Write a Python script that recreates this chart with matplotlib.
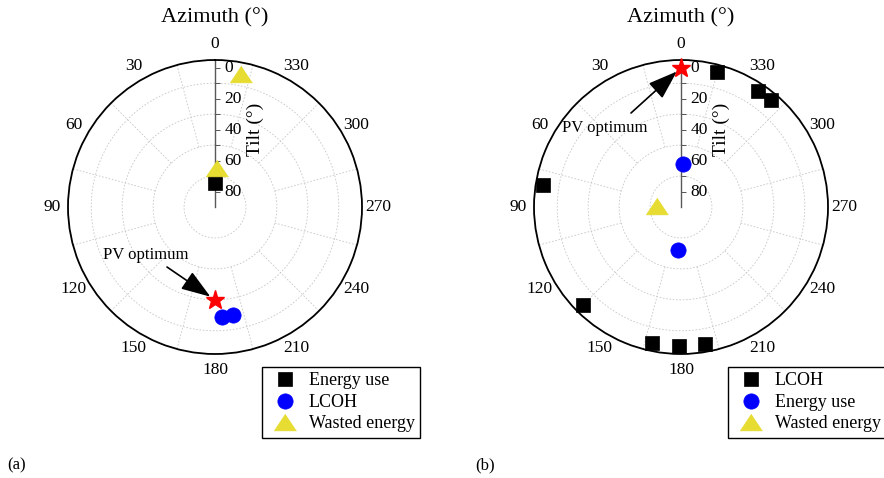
import numpy as np
import matplotlib.pyplot as plt
from matplotlib.transforms import ScaledTranslation

plt.rcParams['font.family'] = ['Liberation Serif', 'DejaVu Serif']

# optimum orientations (azimuth, tilt) in degrees -- case (a)
a_energy_az = [0]
a_energy_tilt = [74.7]
a_lcoh_az = [183.5, 189.5]
a_lcoh_tilt = [19.0, 19.3]
a_waste_az = [349, 357.5]
a_waste_tilt = [2.2, 65]
a_pv_az = [180]
a_pv_tilt = [30]

# case (b)
b_lcoh_az = [345, 326.5, 320, 81, 135, 168, 179, 190]
b_lcoh_tilt = [0, 0, 0, 0, 0, 0, 0, 0]
b_energy_az = [357.4, 176.4]
b_energy_tilt = [62, 62]
b_waste_az = [88]
b_waste_tilt = [74.3]
b_pv_az = [0]
b_pv_tilt = [0]

az_ticks = list(range(0, 360, 30))
tilt_ticks = [0, 20, 40, 60, 80]
tilt_minor = [10, 30, 50, 70]

R_MAX = 95
YELLOW = '#e6dc32'
TRI = [(0, 0.75), (-1, -0.75), (1, -0.75)]

fig = plt.figure(figsize=(8.84, 4.78), dpi=100)


def r_of(tilt):
    return 90 - np.asarray(tilt, dtype=float)


def setup_polar(ax):
    ax.set_theta_zero_location('N')
    ax.set_theta_direction(1)
    ax.set_ylim(0, R_MAX)
    ax.set_xticks(np.deg2rad(az_ticks))
    ax.set_xticklabels([])
    ax.set_yticks([])
    ax.grid(False)
    ax.tick_params(axis='x', direction='in', length=4, width=0.8, color='k')
    ax.spines['polar'].set_linewidth(1.3)

    th = np.linspace(0, 2 * np.pi, 361)
    for t in tilt_minor:
        ax.plot(th, np.full_like(th, r_of(t)), ls=(0, (2, 2)), lw=0.6, color='0.78', zorder=1)
    for a in range(15, 360, 30):
        ax.plot(np.deg2rad([a, a]), [40, R_MAX], ls=(0, (2, 2)), lw=0.6, color='0.78', zorder=1)

    for a in az_ticks:
        ax.text(np.deg2rad(a), 105.5, str(a), ha='center', va='center', fontsize=12.5)

    # tilt axis along azimuth 0
    ax.plot([0, 0], [0, R_MAX], color='0.35', lw=1, zorder=2)
    ticks_r = np.concatenate([r_of(tilt_ticks), r_of(tilt_minor)])
    ax.plot(np.zeros(len(ticks_r)), ticks_r, ls='none', marker=1, ms=3.5,
            mew=0.7, color='0.35', zorder=2)
    off = ax.transData + ScaledTranslation(7 / 72, 0, fig.dpi_scale_trans)
    for t in tilt_ticks:
        ax.text(0, r_of(t), str(t), transform=off, ha='left', va='center', fontsize=12.5)
    off2 = ax.transData + ScaledTranslation(40 / 100, 0, fig.dpi_scale_trans)
    ax.text(0, 50, 'Tilt (°)', transform=off2, rotation=90, ha='center', va='center',
            fontsize=14)


def add_panel(left, series, pv, text_xy, tail_xy, leg_x, tag, tag_x):
    ax = fig.add_axes([left / 884, 1 - 354 / 478, 294 / 884, 294 / 478], projection='polar')
    setup_polar(ax)
    handles = []
    for az, tilt, marker, color, ms, label in series:
        h, = ax.plot(np.deg2rad(az), r_of(tilt), ls='none', marker=marker, ms=ms,
                     color=color, mec=color, mew=0.5, zorder=4, clip_on=False, label=label)
        handles.append(h)
    pv_az, pv_tilt = pv
    ax.annotate('', xy=(np.deg2rad(pv_az[0]), r_of(pv_tilt)[0]), xytext=tail_xy,
                textcoords='figure pixels',
                arrowprops=dict(arrowstyle='-|>,head_length=1.3,head_width=0.45',
                                mutation_scale=14, color='k', lw=1.2,
                                shrinkA=0, shrinkB=4), zorder=3)
    ax.plot(np.deg2rad(pv_az), r_of(pv_tilt), ls='none', marker='*', ms=14, color='red',
            mec='red', zorder=5, clip_on=False)
    ax.annotate('PV optimum', xy=text_xy, xycoords='figure pixels', ha='left',
                va='center', fontsize=12)
    leg = ax.legend(handles=handles, loc='upper left',
                    bbox_to_anchor=(leg_x / 884, 1 - 367 / 478), bbox_transform=fig.transFigure,
                    fancybox=False, edgecolor='k', framealpha=1, fontsize=13, borderpad=0.3,
                    labelspacing=0.25, handletextpad=0.3, handlelength=2.0, borderaxespad=0)
    leg.get_frame().set_linewidth(1.0)
    fig.text((left + 147) / 884, 1 - 18 / 478, 'Azimuth (°)', ha='center', va='center',
             fontsize=16)
    fig.text(tag_x / 884, 1 - 465 / 478, tag, ha='left', va='center', fontsize=12)
    return ax


add_panel(68,
          [(a_energy_az, a_energy_tilt, 's', 'k', 10, 'Energy use'),
           (a_lcoh_az, a_lcoh_tilt, 'o', 'blue', 11, 'LCOH'),
           (a_waste_az, a_waste_tilt, TRI, YELLOW, 16, 'Wasted energy')],
          (a_pv_az, a_pv_tilt), (103, 478 - 255), (167, 478 - 267), 262, '(a)', 7)

add_panel(534,
          [(b_lcoh_az, b_lcoh_tilt, 's', 'k', 10, 'LCOH'),
           (b_energy_az, b_energy_tilt, 'o', 'blue', 11, 'Energy use'),
           (b_waste_az, b_waste_tilt, TRI, YELLOW, 16, 'Wasted energy')],
          (b_pv_az, b_pv_tilt), (562, 478 - 128), (631, 478 - 113), 728, '(b)', 475)

fig.savefig('out.png', dpi=100)
